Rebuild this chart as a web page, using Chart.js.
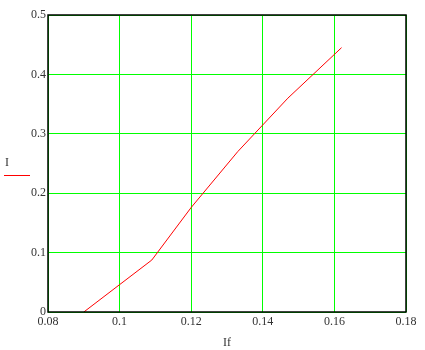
<!DOCTYPE html>
<html>
<head>
<meta charset="utf-8">
<script src="https://cdn.jsdelivr.net/npm/chart.js@4"></script>
<style>
  html, body { margin: 0; padding: 0; background: #fff; }
  #wrap { width: 425px; height: 350px; }
</style>
</head>
<body>
<div id="wrap"><canvas id="plot"></canvas></div>
<script>
// If (x) vs I (y)
const ifValues = [0.09, 0.109, 0.12, 0.133, 0.147, 0.162];
const iValues = [0, 0.0875, 0.176, 0.27, 0.36, 0.445];
const xTicks = [0.08, 0.1, 0.12, 0.14, 0.16, 0.18];
const yTicks = [0, 0.1, 0.2, 0.3, 0.4, 0.5];

const points = ifValues.map((x, i) => ({ x: x, y: iValues[i] }));
const font = { family: "'Liberation Serif', 'Times New Roman', serif", size: 12 };
const fmt = v => String(+Number(v).toFixed(4));

// black frame round the plot area plus the little "I" legend on the left
const framePlugin = {
    id: 'frame',
    afterDraw(chart) {
        const a = chart.chartArea;
        const c = chart.ctx;
        c.save();
        c.strokeStyle = '#000';
        c.lineWidth = 1.5;
        c.strokeRect(a.left, a.top, a.right - a.left, a.bottom - a.top);
        c.fillStyle = '#333';
        c.font = "12px 'Liberation Serif', serif";
        c.textAlign = 'left';
        c.textBaseline = 'middle';
        c.fillText('I', 5, 163);
        c.strokeStyle = '#ff0000';
        c.lineWidth = 1;
        c.beginPath();
        c.moveTo(4, 175.5);
        c.lineTo(30, 175.5);
        c.stroke();
        c.restore();
    }
};

new Chart(document.getElementById('plot'), {
    type: 'scatter',
    data: {
        datasets: [{
            data: points,
            showLine: true,
            borderColor: '#ff0000',
            borderWidth: 1,
            pointRadius: 0,
            tension: 0
        }]
    },
    options: {
        responsive: true,
        maintainAspectRatio: false,
        animation: false,
        layout: { padding: { top: 15, right: 19, left: 0, bottom: 0 } },
        plugins: {
            legend: { display: false },
            tooltip: { enabled: false }
        },
        scales: {
            x: {
                type: 'linear',
                min: 0.08,
                max: 0.18,
                afterBuildTicks: s => { s.ticks = xTicks.map(v => ({ value: v })); },
                afterFit: s => { s.height = 38; },
                ticks: { font: font, color: '#333', padding: 3, maxRotation: 0, callback: fmt },
                grid: { color: '#00ff00', lineWidth: 1, drawTicks: false },
                border: { display: false },
                title: { display: true, text: 'If', font: font, color: '#333', padding: { top: 6, bottom: 0 } }
            },
            y: {
                min: 0,
                max: 0.5,
                afterBuildTicks: s => { s.ticks = yTicks.map(v => ({ value: v })); },
                afterFit: s => { s.width = 48; },
                ticks: { font: font, color: '#333', padding: 2, callback: fmt },
                grid: { color: '#00ff00', lineWidth: 1, drawTicks: false },
                border: { display: false }
            }
        }
    },
    plugins: [framePlugin]
});
</script>
</body>
</html>
